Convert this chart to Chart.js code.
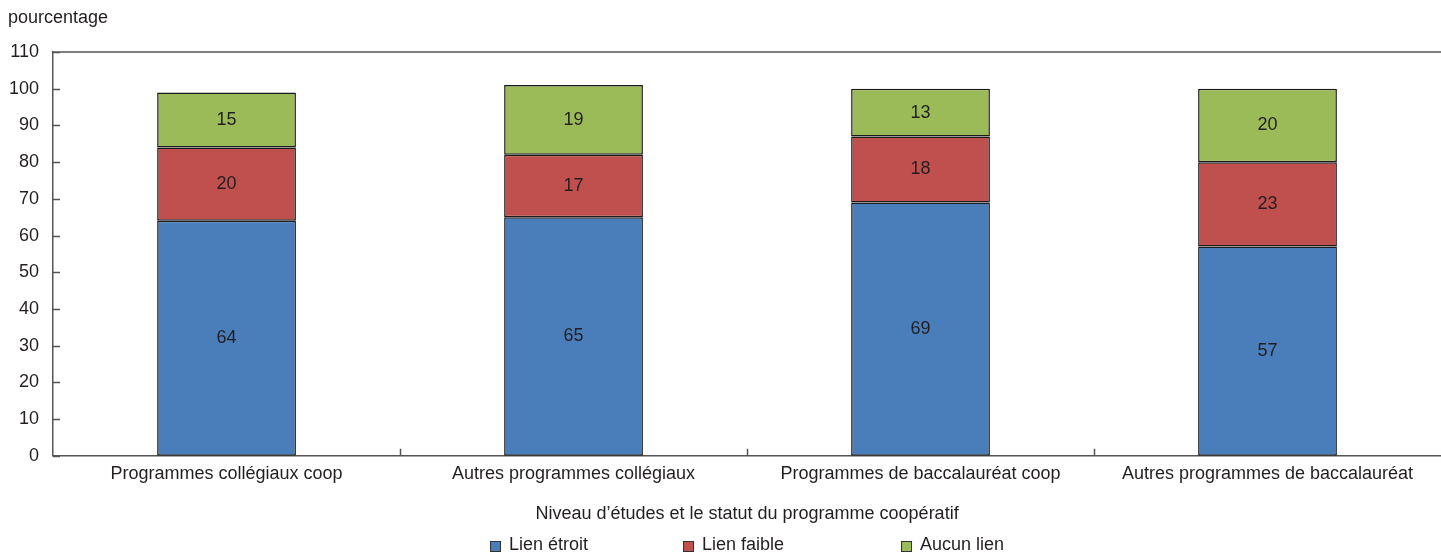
<!DOCTYPE html>
<html>
<head>
<meta charset="utf-8">
<script src="https://cdn.jsdelivr.net/npm/chart.js@4.4.0/dist/chart.umd.min.js"></script>
<style>
  html, body { margin: 0; padding: 0; background: #fff; }
  #wrap { width: 1441px; height: 554px; }
</style>
</head>
<body>
<div id="wrap"><canvas id="chart"></canvas></div>
<script>
const categories = [
  'Programmes collégiaux coop',
  'Autres programmes collégiaux',
  'Programmes de baccalauréat coop',
  'Autres programmes de baccalauréat'
];
const seriesNames = ['Lien étroit', 'Lien faible', 'Aucun lien'];
const lienEtroit = [64, 65, 69, 57];
const lienFaible = [20, 17, 18, 23];
const aucunLien = [15, 19, 13, 20];
const yTicks = [0, 10, 20, 30, 40, 50, 60, 70, 80, 90, 100, 110];

const colors = ['#4a7ebb', '#c0504d', '#9bbb59'];
const FONT = '"Liberation Sans Narrow", "Arial Narrow", "Liberation Sans", Arial, sans-serif';
const FS = 18;
const TEXT = '#231f20';
const AXIS = '#555555';

// inward tick marks, top border, unit label, segment labels and the legend
const extras = {
  id: 'extras',
  afterDraw(chart) {
    const ctx = chart.ctx;
    const area = chart.chartArea;
    const x = chart.scales.x;
    const y = chart.scales.y;
    ctx.save();
    ctx.strokeStyle = AXIS;
    ctx.lineWidth = 1.5;
    ctx.beginPath();
    ctx.moveTo(area.left, area.top);
    ctx.lineTo(area.right, area.top);
    yTicks.forEach(v => {
      const py = Math.round(y.getPixelForValue(v)) + 0.5;
      ctx.moveTo(area.left, py);
      ctx.lineTo(area.left + 7, py);
    });
    for (let i = 1; i < categories.length; i++) {
      const px = Math.round((x.getPixelForValue(i - 1) + x.getPixelForValue(i)) / 2) + 0.5;
      ctx.moveTo(px, area.bottom);
      ctx.lineTo(px, area.bottom - 7);
    }
    ctx.stroke();

    ctx.fillStyle = TEXT;
    ctx.font = FS + 'px ' + FONT;
    ctx.textBaseline = 'middle';
    ctx.textAlign = 'left';
    ctx.fillText('pourcentage', 8, 18);

    // values in segments
    ctx.textAlign = 'center';
    chart.data.datasets.forEach((ds, di) => {
      chart.getDatasetMeta(di).data.forEach((bar, i) => {
        const p = bar.getProps(['x', 'y', 'base'], true);
        ctx.fillText(String(ds.data[i]), p.x, (p.y + p.base) / 2);
      });
    });

    // legend
    const cx = (area.left + area.right) / 2;
    const ly = chart.height - 8;
    const offsets = [-257, -64, 154];
    ctx.textAlign = 'left';
    seriesNames.forEach((name, i) => {
      const bx = cx + offsets[i];
      ctx.fillStyle = colors[i];
      ctx.fillRect(bx, ly - 5, 11, 11);
      ctx.strokeStyle = '#333';
      ctx.lineWidth = 1;
      ctx.strokeRect(bx + 0.5, ly - 4.5, 10, 10);
      ctx.fillStyle = TEXT;
      ctx.fillText(name, bx + 19, ly - 1);
    });
    ctx.restore();
  }
};

const values = [lienEtroit, lienFaible, aucunLien];
new Chart(document.getElementById('chart'), {
  type: 'bar',
  data: {
    labels: categories,
    datasets: seriesNames.map((name, i) => ({
      label: name,
      data: values[i],
      backgroundColor: colors[i],
      borderColor: '#1a1a1a',
      borderWidth: 1.5,
      borderSkipped: false,
      categoryPercentage: 1,
      barPercentage: 0.4
    }))
  },
  options: {
    responsive: true,
    maintainAspectRatio: false,
    animation: false,
    layout: { padding: { top: 52, right: 0, bottom: 29, left: -5 } },
    plugins: {
      legend: { display: false },
      tooltip: { enabled: false },
      title: { display: false }
    },
    scales: {
      x: {
        stacked: true,
        grid: { display: false, drawTicks: false },
        border: { display: true, color: AXIS, width: 1.5 },
        ticks: { color: TEXT, font: { family: FONT, size: FS }, padding: 7, maxRotation: 0 },
        title: {
          display: true,
          text: 'Niveau d\u2019études et le statut du programme coopératif',
          color: TEXT,
          font: { family: FONT, size: FS },
          padding: { top: 12, bottom: 0 }
        }
      },
      y: {
        stacked: true,
        min: 0,
        max: 110,
        grid: { display: false, drawTicks: false },
        border: { display: true, color: AXIS, width: 1.5 },
        afterBuildTicks(scale) { scale.ticks = yTicks.map(v => ({ value: v })); },
        ticks: { color: TEXT, font: { family: FONT, size: FS }, padding: 14 }
      }
    }
  },
  plugins: [extras]
});
</script>
</body>
</html>
